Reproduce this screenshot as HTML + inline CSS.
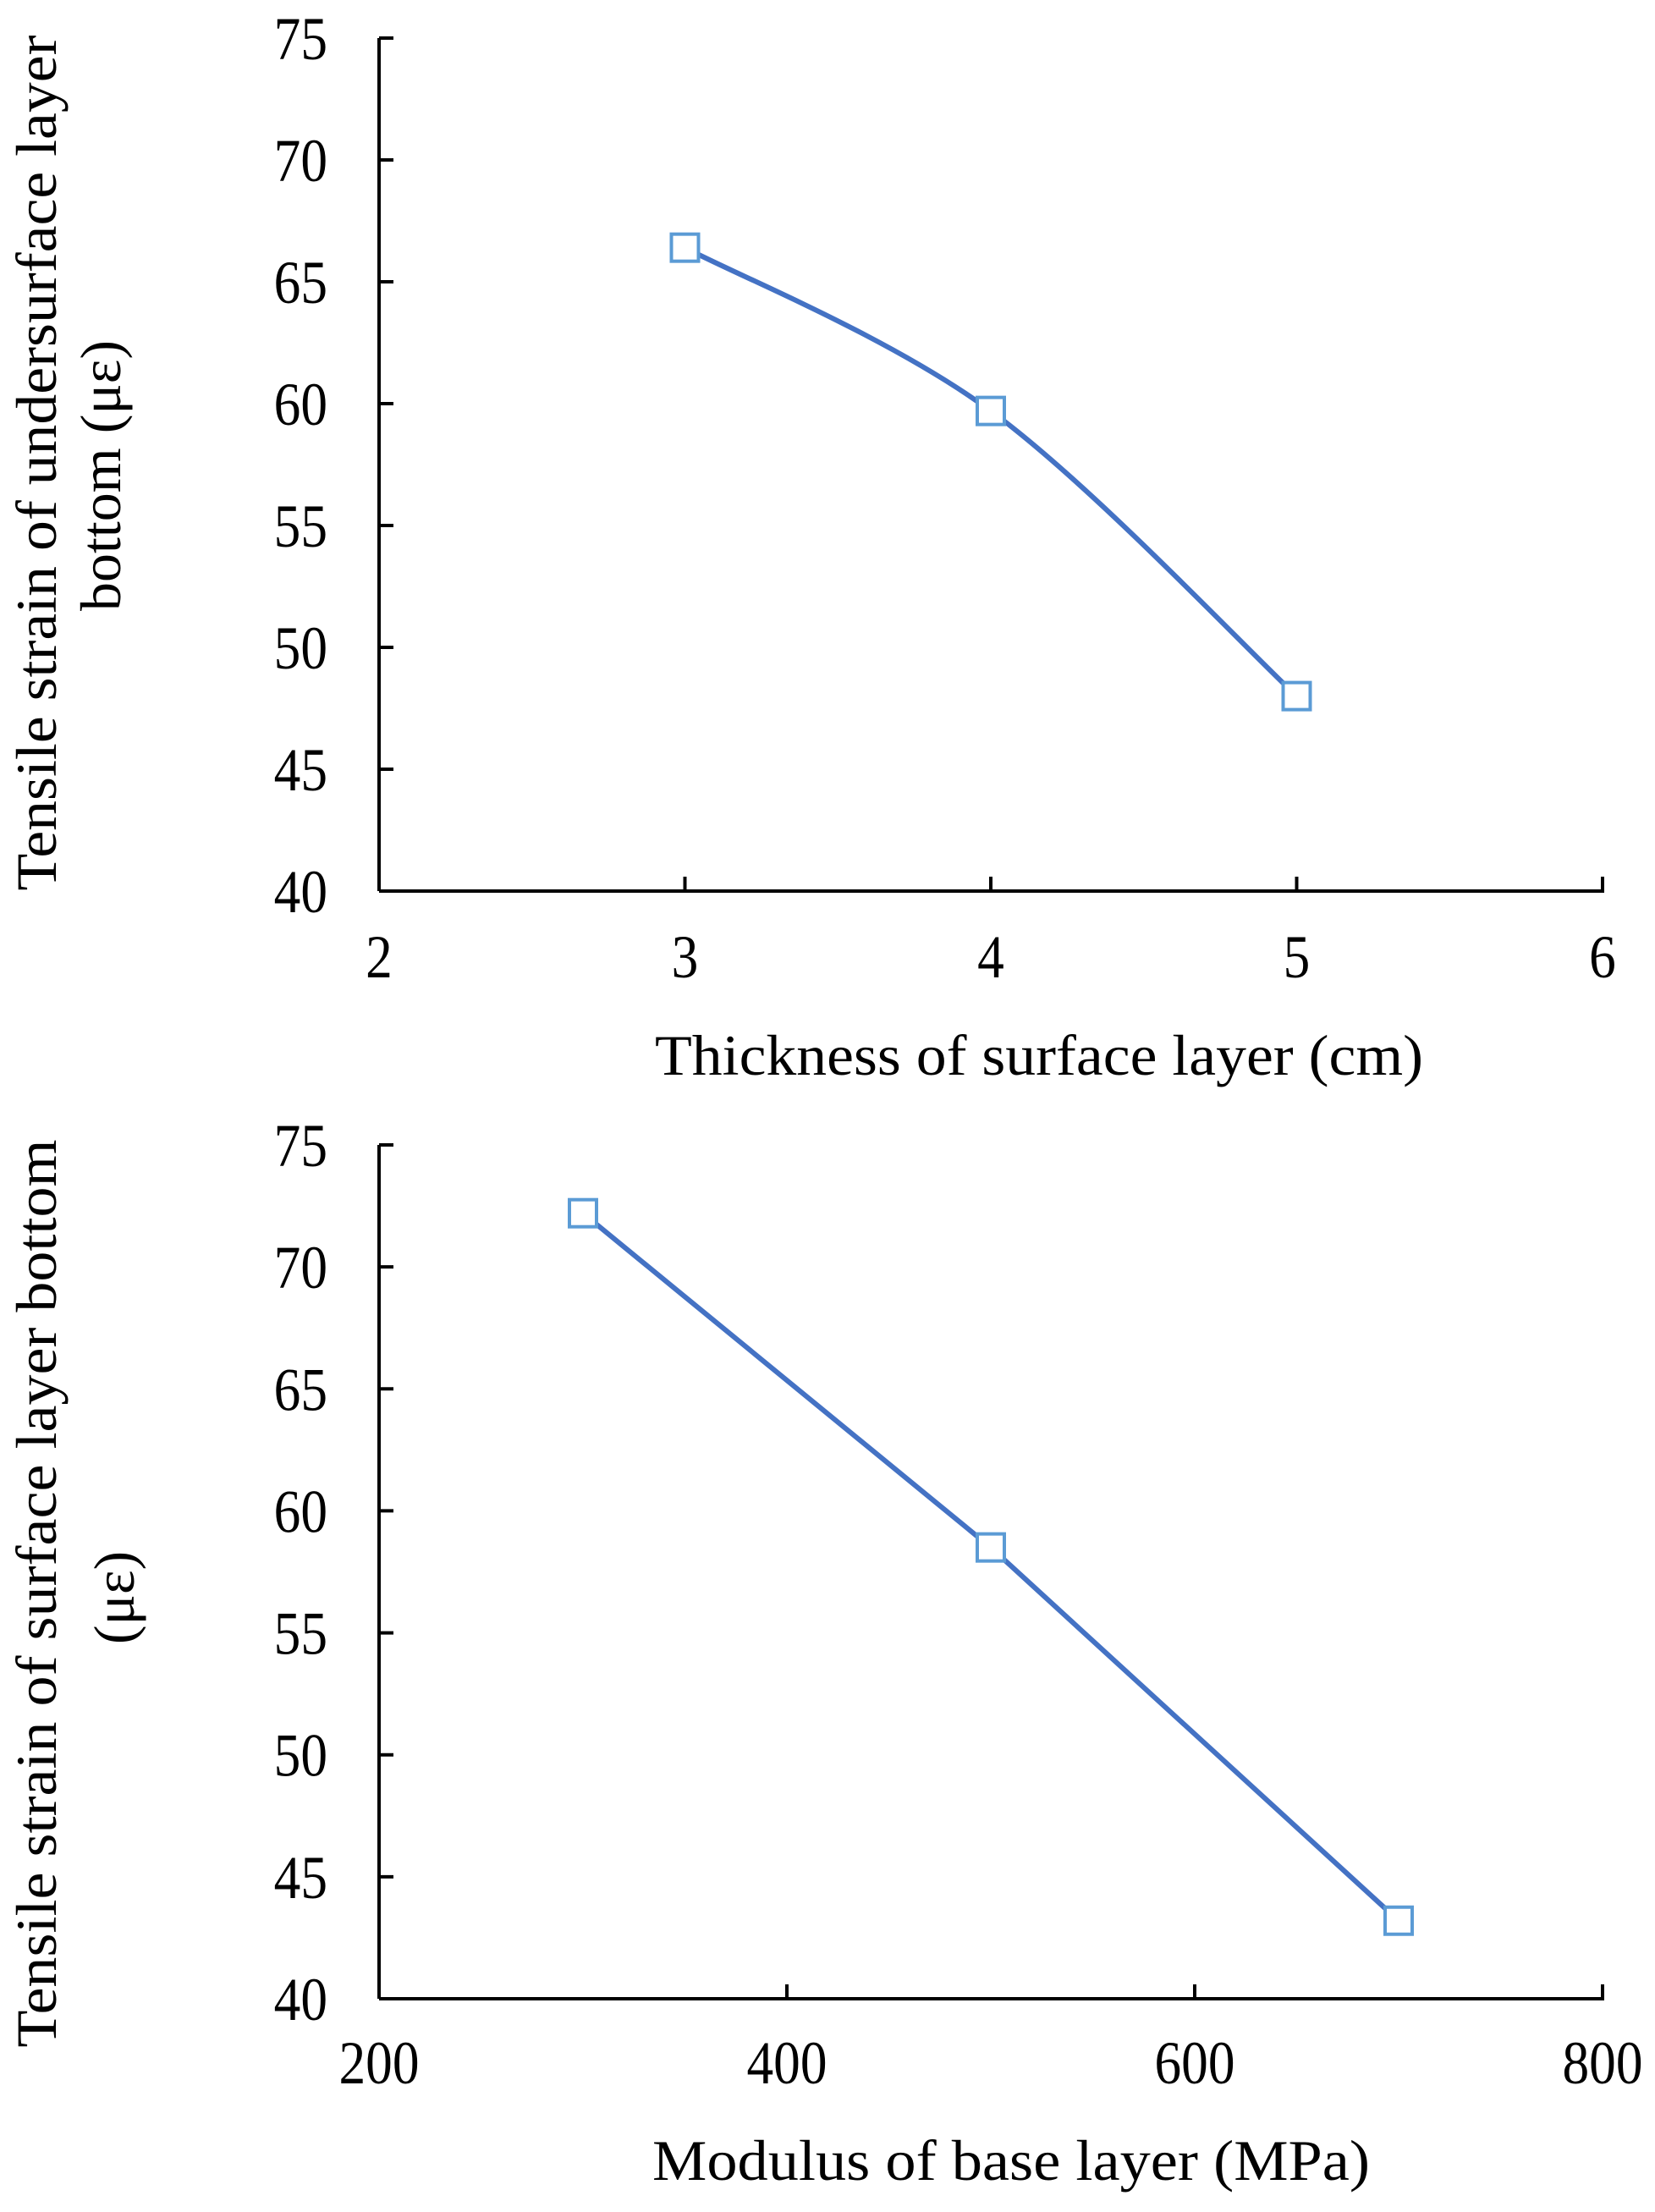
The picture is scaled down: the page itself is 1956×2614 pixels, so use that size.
<!DOCTYPE html>
<html><head><meta charset="utf-8"><style>
html,body{margin:0;padding:0;background:#fff;}
svg{display:block;font-family:"Liberation Serif","DejaVu Serif",serif;}
</style></head><body>
<svg id="c" width="1956" height="2614" viewBox="0 0 1956 2614" xmlns="http://www.w3.org/2000/svg"></svg>
<script>
const topX=[3,4,5];
const topY=[66.4,59.7,48.0];
const topXTicks=[2,3,4,5,6];
const botX=[300,500,700];
const botY=[72.2,58.5,43.2];
const botXTicks=[200,400,600,800];
const yTicks=[40,45,50,55,60,65,70,75];

const NS='http://www.w3.org/2000/svg';
const svg=document.getElementById('c');
function el(tag,attrs,parent,text){const e=document.createElementNS(NS,tag);for(const k in attrs)e.setAttribute(k,attrs[k]);if(text!==undefined)e.textContent=text;(parent||svg).appendChild(e);return e;}

function chart(cfg){
  const g=el('g',{},svg);
  
  
  const L=448,R=1894,T=cfg.top,B=cfg.bottom;
  const sx=v=>L+(v-cfg.xmin)/(cfg.xmax-cfg.xmin)*(R-L);
  const sy=v=>B-(v-40)/(75-40)*(B-T);
  const ya=el('line',{x1:L,y1:T,x2:L,y2:B,stroke:'#000','stroke-width':4},g);
  
  
  const xa=el('line',{x1:L,y1:B,x2:R+2,y2:B,stroke:'#000','stroke-width':4},g);
  
  
  yTicks.forEach(v=>{
    el('line',{x1:L,y1:sy(v),x2:L+17,y2:sy(v),stroke:'#000','stroke-width':4},g);
    const t=el('text',{x:0,y:0,'text-anchor':'end','font-size':72,transform:'translate(387,'+(sy(v)+25)+') scale(0.88,1)'},g,String(v));
    
    
  });
  cfg.xticks.forEach(v=>{
    el('line',{x1:sx(v),y1:B,x2:sx(v),y2:B-17,stroke:'#000','stroke-width':4},g);
    const t=el('text',{x:0,y:0,'text-anchor':'middle','font-size':72,transform:'translate('+sx(v)+','+(cfg.xlabY+1)+') scale(0.88,1)'},g,String(v));
    
    
  });
  const pts=cfg.xs.map((x,i)=>[sx(x),sy(cfg.ys[i])]);
  let d='M'+pts[0][0]+','+pts[0][1];
  if(cfg.smooth){
    for(let i=0;i<pts.length-1;i++){
      const p0=pts[Math.max(0,i-1)],p1=pts[i],p2=pts[i+1],p3=pts[Math.min(pts.length-1,i+2)];
      const k=1/6;
      d+=' C'+(p1[0]+(p2[0]-p0[0])*k)+','+(p1[1]+(p2[1]-p0[1])*k)+' '+(p2[0]-(p3[0]-p1[0])*k)+','+(p2[1]-(p3[1]-p1[1])*k)+' '+p2[0]+','+p2[1];
    }
  } else {
    for(let i=1;i<pts.length;i++) d+=' L'+pts[i][0]+','+pts[i][1];
  }
  const line=el('path',{d:d,fill:'none',stroke:'#4472c4','stroke-width':6},g);
  
  
  pts.forEach(p=>{
    const m=el('rect',{x:p[0]-16,y:p[1]-16,width:32,height:32,fill:'#fff',stroke:'#5b9bd5','stroke-width':4},g);
    
    
  });
  const xt=el('text',{x:cfg.xtX,y:cfg.xtY,'text-anchor':'middle','font-size':68,textLength:cfg.xtLen,lengthAdjust:'spacingAndGlyphs'},g,cfg.xtitle);
  
  
  const y1=el('text',{x:0,y:0,'text-anchor':'middle','font-size':68,textLength:cfg.l1Len,lengthAdjust:'spacingAndGlyphs',transform:'translate(66,'+cfg.l1C+') rotate(-90)'},g,cfg.l1);
  
  
  const y2=el('text',{x:0,y:0,'text-anchor':'middle','font-size':68,transform:'translate('+cfg.l2X+','+cfg.l2C+') rotate(-90)'},g,cfg.l2);
  
  
}
chart({name:'thickness-chart',top:45,bottom:1053,xmin:2,xmax:6,xticks:topXTicks,xs:topX,ys:topY,smooth:true,xlabY:1154,
  xtitle:'Thickness of surface  layer  (cm)',xtX:1228,xtY:1270,xtLen:908,
  l1:'Tensile strain of undersurface  layer',l1Len:1011,l1C:547,l2:'bottom (με)',l2X:142,l2C:562});
chart({name:'modulus-chart',top:1353,bottom:2362,xmin:200,xmax:800,xticks:botXTicks,xs:botX,ys:botY,smooth:false,xlabY:2461,
  xtitle:'Modulus  of  base  layer  (MPa)',xtX:1195,xtY:2576,xtLen:848,
  l1:'Tensile strain of surface  layer  bottom',l1Len:1073,l1C:1883,l2:'(με)',l2X:158,l2C:1888});
</script>
</body></html>
